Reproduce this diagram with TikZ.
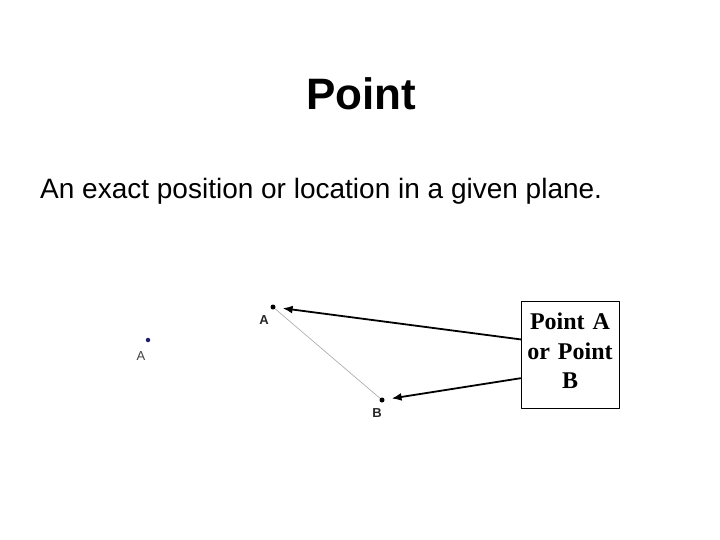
\documentclass[tikz,border=0pt]{standalone}
\usepackage{fontspec}
\setmainfont{Liberation Sans}
\newfontfamily\boxfont{Liberation Serif}
\usetikzlibrary{arrows.meta, calc}
\definecolor{navy}{RGB}{30,30,110}

\begin{document}
\begin{tikzpicture}[x=1pt, y=-1pt, line cap=round, line join=round,
	dot/.style={circle, fill=black, inner sep=0pt, minimum size=5pt},
	ptlabel/.style={font=\fontsize{13}{13}\selectfont\bfseries, text=black!85, inner sep=0pt},
	pointer/.style={-{Latex[length=10pt,width=8pt]}, line width=1.8pt, shorten >=7pt}]
\useasboundingbox (0,0) rectangle (720,540);
%========================
% Title and definition
%========================
\node[anchor=base, inner sep=0pt, font=\fontsize{44}{50}\selectfont\bfseries] (title) at (361,110) {Point};
\node[anchor=base west, inner sep=0pt, font=\fontsize{28}{34}\selectfont] (defn) at (40,199) {An exact position or location in a given plane.};

% a lone point
\node[dot, fill=navy, minimum size=4.5pt] (lone) at (148,340) {};
\node[ptlabel, font=\fontsize{13}{13}\selectfont, text=black!75] (loneA) at (141,356) {A};

%========================
% Segment AB
%========================
\node[dot] (segA) at (273,307) {};
\node[dot] (segB) at (382,400) {};
\draw[gray!70, line width=0.6pt] (segA) -- (segB);
\node[ptlabel] (labA) at (264,320) {A};
\node[ptlabel] (labB) at (377,413) {B};

% callout box with its two arrows
\node[draw, line width=0.8pt, minimum width=98pt, minimum height=107pt] (callout) at (570,354.5) {};
\node[text width=92pt, align=center, inner sep=0pt,
	font=\boxfont\bfseries\fontsize{24}{29.5}\selectfont]
	(calloutText) at ([yshift=3.5pt]callout.center) {Point A\\or Point\\B};
\draw[pointer] ($(callout.north west)!0.36!(callout.south west)$) -- (segA);
\draw[pointer] ($(callout.north west)!0.72!(callout.south west)$) -- (segB);
\end{tikzpicture}
\end{document}
